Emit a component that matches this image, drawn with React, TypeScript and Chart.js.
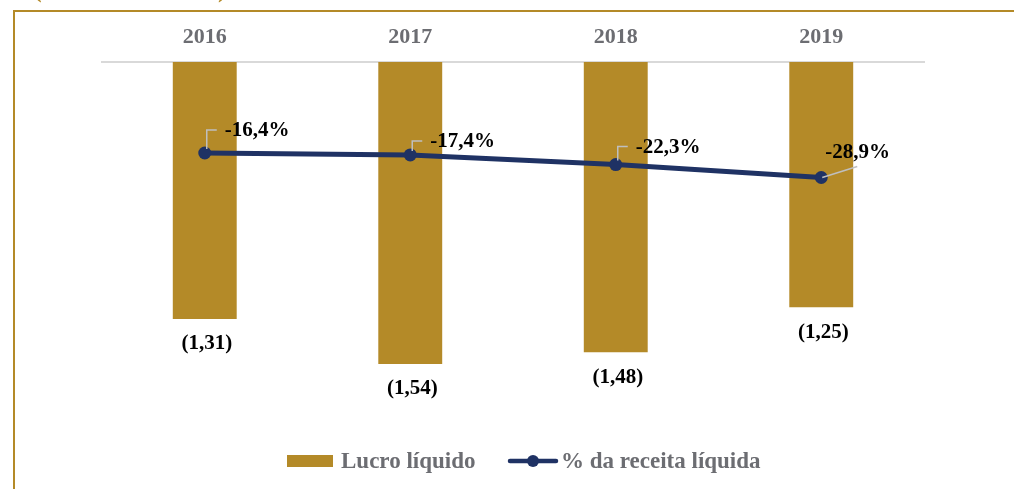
import React, { useEffect, useRef } from "react";
import { Chart, registerables } from "chart.js";

Chart.register(...registerables);

const CATEGORIES = ["2016", "2017", "2018", "2019"];
const LUCRO_LIQUIDO = [-1.31, -1.54, -1.48, -1.25];
const PCT_RECEITA = [-16.4, -17.4, -22.3, -28.9];
const SERIES_NAMES = ["Lucro líquido", "% da receita líquida"];

// label placement (layout only)
const LINE_LABEL_OFFSETS = [
  { dx: 20, dy: -22, leader: "elbow" },
  { dx: 20, dy: -13, leader: "elbow" },
  { dx: 20, dy: -17, leader: "elbow" },
  { dx: 4, dy: -25, leader: "diag" },
];

const GOLD = "#B48A28";
const NAVY = "#1F3264";
const GRAY_TEXT = "#6C6D72";
const FONT = "'Liberation Serif', 'Times New Roman', serif";

const fmtBar = (v: number) => `(${Math.abs(v).toFixed(2).replace(".", ",")})`;
const fmtPct = (v: number) => `${v.toFixed(1).replace(".", ",")}%`;

const decorPlugin = {
  id: "decor",
  beforeDraw(chart: any) {
    const ctx = chart.ctx;
    ctx.save();
    ctx.fillStyle = "#ffffff";
    ctx.fillRect(0, 0, chart.width, chart.height);
    // frame
    ctx.strokeStyle = GOLD;
    ctx.lineWidth = 2;
    ctx.beginPath();
    ctx.moveTo(14, chart.height);
    ctx.lineTo(14, 11);
    ctx.lineTo(chart.width, 11);
    ctx.stroke();
    // cut-off parentheses of a subtitle above
    ctx.fillStyle = GOLD;
    ctx.font = `bold 26px ${FONT}`;
    ctx.textBaseline = "alphabetic";
    ctx.textAlign = "left";
    ctx.fillText("(", 33, -3);
    ctx.fillText(")", 218, -3);
    ctx.restore();
  },
  afterDatasetsDraw(chart: any) {
    const ctx = chart.ctx;
    ctx.save();
    // bar labels
    const barMeta = chart.getDatasetMeta(1);
    ctx.font = `bold 21px ${FONT}`;
    ctx.fillStyle = "#000000";
    ctx.textAlign = "center";
    ctx.textBaseline = "middle";
    barMeta.data.forEach((el: any, i: number) => {
      ctx.fillText(fmtBar(LUCRO_LIQUIDO[i]), el.x + 2, el.y + 25);
    });
    // line labels
    const lineMeta = chart.getDatasetMeta(0);
    lineMeta.data.forEach((el: any, i: number) => {
      const o = LINE_LABEL_OFFSETS[i];
      const lx = el.x + o.dx;
      const ly = el.y + o.dy;
      ctx.strokeStyle = "#BFBFBF";
      ctx.lineWidth = 1.5;
      ctx.beginPath();
      if (o.leader === "elbow") {
        ctx.moveTo(el.x + 2, el.y - 4);
        ctx.lineTo(el.x + 2, ly - 1);
        ctx.lineTo(lx - 8, ly - 1);
      } else {
        ctx.moveTo(el.x + 1, el.y);
        ctx.lineTo(lx + 32, ly + 14);
      }
      ctx.stroke();
      ctx.fillStyle = "#000000";
      ctx.textAlign = "left";
      ctx.textBaseline = "middle";
      ctx.fillText(fmtPct(PCT_RECEITA[i]), lx, ly);
    });
    // legend
    const ly = 461;
    ctx.fillStyle = GOLD;
    ctx.fillRect(287, ly - 6, 46, 12);
    ctx.font = `bold 23px ${FONT}`;
    ctx.fillStyle = GRAY_TEXT;
    ctx.textAlign = "left";
    ctx.textBaseline = "middle";
    ctx.fillText(SERIES_NAMES[0], 341, ly + 1);
    ctx.strokeStyle = NAVY;
    ctx.lineWidth = 4.5;
    ctx.lineCap = "round";
    ctx.beginPath();
    ctx.moveTo(510, ly);
    ctx.lineTo(556, ly);
    ctx.stroke();
    ctx.fillStyle = NAVY;
    ctx.beginPath();
    ctx.arc(533, ly, 6, 0, Math.PI * 2);
    ctx.fill();
    ctx.fillStyle = GRAY_TEXT;
    ctx.fillText(SERIES_NAMES[1], 561, ly + 1);
    ctx.restore();
  },
};

export default function App() {
  const ref = useRef<HTMLCanvasElement | null>(null);
  useEffect(() => {
    if (!ref.current) return;
    const chart = new Chart(ref.current, {
      data: {
        labels: CATEGORIES,
        datasets: [
          {
            type: "line",
            label: SERIES_NAMES[1],
            data: PCT_RECEITA,
            yAxisID: "y2",
            borderColor: NAVY,
            backgroundColor: NAVY,
            borderWidth: 5,
            pointRadius: 6.5,
            pointBackgroundColor: NAVY,
            pointBorderWidth: 0,
            tension: 0,
            order: 0,
          },
          {
            type: "bar",
            label: SERIES_NAMES[0],
            data: LUCRO_LIQUIDO,
            yAxisID: "y",
            backgroundColor: GOLD,
            borderWidth: 0,
            categoryPercentage: 1,
            barPercentage: 0.311,
            order: 1,
          },
        ],
      } as any,
      options: {
        responsive: false,
        animation: false,
        devicePixelRatio: 1,
        layout: { padding: { left: 102, right: 90, top: 0, bottom: 74 } },
        plugins: {
          legend: { display: false },
          tooltip: { enabled: false },
        },
        scales: {
          x: {
            type: "category",
            position: "top",
            offset: true,
            grid: { display: false, drawTicks: false },
            border: { display: true, color: "#D9D9D9", width: 2 },
            ticks: {
              color: GRAY_TEXT,
              font: { family: FONT, size: 22, weight: "bold" },
              padding: 11,
            },
            afterFit(scale: any) {
              scale.height = 62;
            },
          },
          y: {
            display: false,
            min: -1.8,
            max: 0,
          },
          y2: {
            display: false,
            min: -150,
            max: 30,
          },
        },
      } as any,
      plugins: [decorPlugin],
    });
    return () => chart.destroy();
  }, []);
  return (
    <div style={{ position: "absolute", left: 0, top: 0, width: 1014, height: 489 }}>
      <canvas ref={ref} width={1014} height={489} style={{ display: "block" }} />
    </div>
  );
}
